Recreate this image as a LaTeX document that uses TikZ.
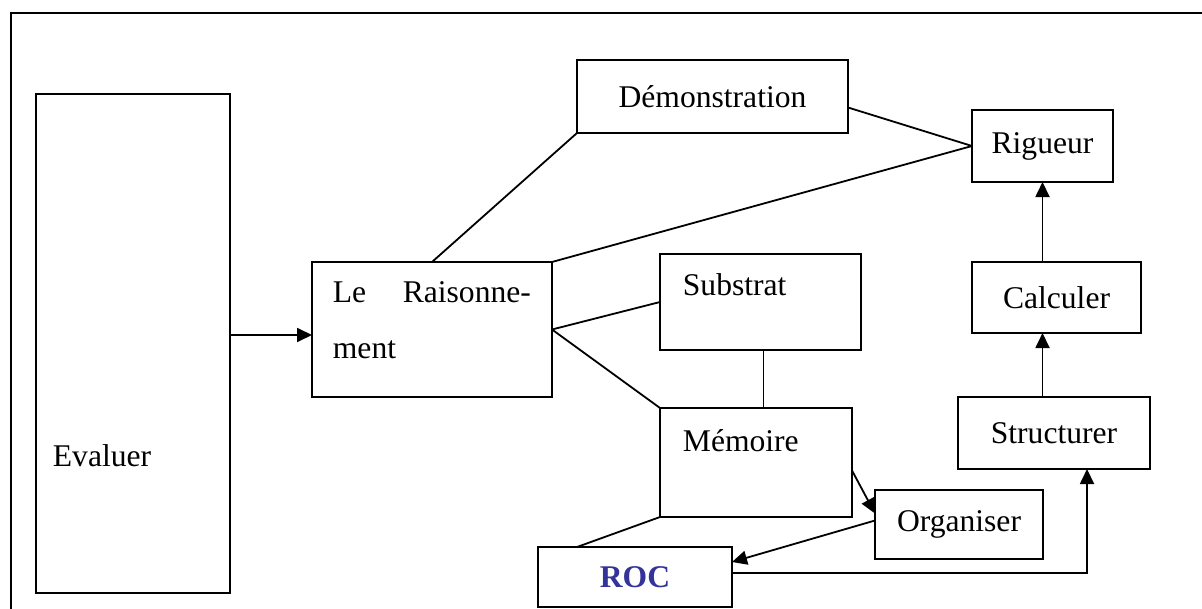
\documentclass[tikz,border=0pt]{standalone}
\usepackage{fontspec}
\setmainfont{Liberation Serif}
\usetikzlibrary{arrows.meta}
\definecolor{rocblue}{HTML}{333399}

\begin{document}
\begin{tikzpicture}[x=0.5pt, y=-0.5pt,
	box/.style={draw, line width=0.9pt, inner sep=0pt, outer sep=0pt},
	txt/.style={inner sep=0pt, font=\fontsize{15.8}{28}\selectfont},
	arr/.style={-{Triangle[length=7.5pt,width=7pt]}},
	every path/.style={line width=0.9pt}]
	
	\useasboundingbox (0,0) rectangle (1202,609);
	\draw (11,609) -- (11,13) -- (1202,13);
	
	% boxes with text on the left
	\node[box, minimum width=97pt, minimum height=249.5pt] (evaluer) at (133,343.5) {};
	\node[txt, anchor=base west] at (52,466) {Evaluer};
	\node[box, minimum width=120pt, minimum height=67.5pt] (raison) at (432,329.5) {};
	\node[txt, anchor=north west, text width=99pt, align=left] at (332,281) {Le\hfill Raisonne-\\ment};
	\node[box, minimum width=100.5pt, minimum height=48pt] (substrat) at (760.5,302) {};
	\node[txt, anchor=base west] at (682,295) {Substrat};
	\node[box, minimum width=96pt, minimum height=54.5pt] (memoire) at (756,462.5) {};
	\node[txt, anchor=base west] at (682,451) {Mémoire};
	
	% boxes with centred text
	\node[box, txt, minimum width=135.5pt, minimum height=36.5pt] (demo) at (712.5,96.5) {Démonstration};
	\node[box, txt, minimum width=70.5pt, minimum height=36pt] (rigueur) at (1042.5,146) {Rigueur};
	\node[box, txt, minimum width=84.5pt, minimum height=35.5pt] (calculer) at (1056.5,297.5) {Calculer\hspace{10pt}};
	\node[box, txt, minimum width=96pt, minimum height=36pt] (structurer) at (1054,433) {Structurer};
	\node[box, txt, minimum width=84pt, minimum height=34.5pt] (organiser) at (959,524.5) {Organiser};
	\node[box, txt, minimum width=97pt, minimum height=30pt, text=rocblue, font=\fontsize{15.8}{28}\selectfont\bfseries] (roc) at (635,577) {ROC};
	
	% links
	\draw[arr] (evaluer.east |- 0,335) -- (raison.west |- 0,335);
	\draw (raison.north) -- (demo.south west);
	\draw (raison.north east) -- (rigueur.west);
	\draw ([yshift=-5.5pt]demo.east) -- (rigueur.west);
	\draw (raison.east) -- (substrat.west);
	\draw (raison.east) -- (memoire.north west);
	\draw ([xshift=1.5pt]substrat.south) -- ([xshift=1.5pt]substrat.south |- memoire.north);
	\draw[arr] ([yshift=-4pt]memoire.east) -- ([yshift=5.5pt]organiser.west);
	\draw[arr] ([yshift=2pt]organiser.west) -- ([yshift=7.5pt]roc.east);
	\draw (memoire.south west) -- ([xshift=-29pt]roc.north);
	\draw[arr] ([yshift=2pt]roc.east) -| ([xshift=16.5pt]structurer.south);
	\draw[arr] (structurer.north -| rigueur.south) -- (calculer.south -| rigueur.south);
	\draw[arr] (calculer.north -| rigueur.south) -- (rigueur.south);
	
\end{tikzpicture}
\end{document}
